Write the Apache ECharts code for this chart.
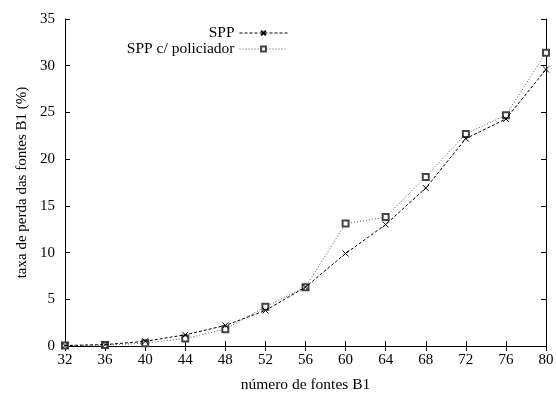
<!DOCTYPE html>
<html>
<head>
<meta charset="utf-8">
<script src="https://cdn.jsdelivr.net/npm/echarts@6/dist/echarts.min.js"></script>
<style>
  html, body { margin: 0; padding: 0; background: #fff; }
  #chart { width: 556px; height: 394px; }
</style>
</head>
<body>
<div id="chart"></div>
<script>
// fontes B1 (eixo x)
const fontes = [32, 36, 40, 44, 48, 52, 56, 60, 64, 68, 72, 76, 80];
// taxa de perda (%)
const spp = [0.05, 0.15, 0.5, 1.2, 2.2, 3.8, 6.3, 9.9, 13.0, 16.9, 22.2, 24.3, 29.6];
const sppPolic = [0.05, 0.1, 0.3, 0.8, 1.8, 4.2, 6.3, 13.1, 13.8, 18.1, 22.7, 24.7, 31.4];

const crossPath = "path://M0,0L10,10M10,0L0,10";
const font = "Liberation Serif";

const chart = echarts.init(document.getElementById("chart"), null, { renderer: "canvas" });

const axisCommon = {
  type: "value",
  axisLine: { show: true, lineStyle: { color: "#000", width: 1 } },
  axisTick: { show: true, inside: true, length: 5, lineStyle: { color: "#000" } },
  splitLine: { show: false },
};

chart.setOption({
  animation: false,
  backgroundColor: "#fff",
  textStyle: { fontFamily: font },
  grid: { left: 65, right: 10, top: 19, bottom: 48, outerBoundsMode: "none" },
  legend: {
    right: 268,
    top: 25,
    padding: 0,
    orient: "vertical",
    align: "right",
    itemGap: 0,
    itemWidth: 48,
    itemHeight: 6,
    lineStyle: { width: 1 },
    textStyle: { fontFamily: font, fontSize: 15.5, color: "#000" },
    data: ["SPP", "SPP c/ policiador"],
  },
  xAxis: [
    {
      ...axisCommon,
      min: 32,
      max: 80,
      interval: 4,
      name: "número de fontes B1",
      nameLocation: "middle",
      nameGap: 31,
      nameTextStyle: { fontFamily: font, fontSize: 15.5, color: "#000" },
      axisLabel: { fontFamily: font, fontSize: 15, color: "#000", margin: 7 },
    },
    {
      ...axisCommon,
      position: "top",
      min: 32,
      max: 80,
      interval: 4,
      axisLabel: { show: false },
    },
  ],
  yAxis: [
    {
      ...axisCommon,
      min: 0,
      max: 35,
      interval: 5,
      name: "taxa de perda das fontes B1 (%)",
      nameLocation: "middle",
      nameGap: 35,
      nameTextStyle: { fontFamily: font, fontSize: 15, color: "#000" },
      axisLabel: { fontFamily: font, fontSize: 15, color: "#000", margin: 10 },
    },
    {
      ...axisCommon,
      position: "right",
      min: 0,
      max: 35,
      interval: 5,
      axisLabel: { show: false },
    },
  ],
  series: [
    {
      name: "SPP",
      type: "line",
      data: fontes.map((x, i) => [x, spp[i]]),
      symbol: crossPath,
      symbolSize: 6,
      itemStyle: { color: "rgba(0,0,0,0)", borderColor: "#000", borderWidth: 1 },
      lineStyle: { color: "#000", width: 1, type: [3, 2] },
      z: 3,
    },
    {
      name: "SPP c/ policiador",
      type: "line",
      data: fontes.map((x, i) => [x, sppPolic[i]]),
      symbol: "emptyRect",
      symbolSize: 6,
      itemStyle: { color: "#444", borderColor: "#444", borderWidth: 1 },
      lineStyle: { color: "#555", width: 1, type: [1, 2] },
      z: 2,
    },
  ],
});
</script>
</body>
</html>
